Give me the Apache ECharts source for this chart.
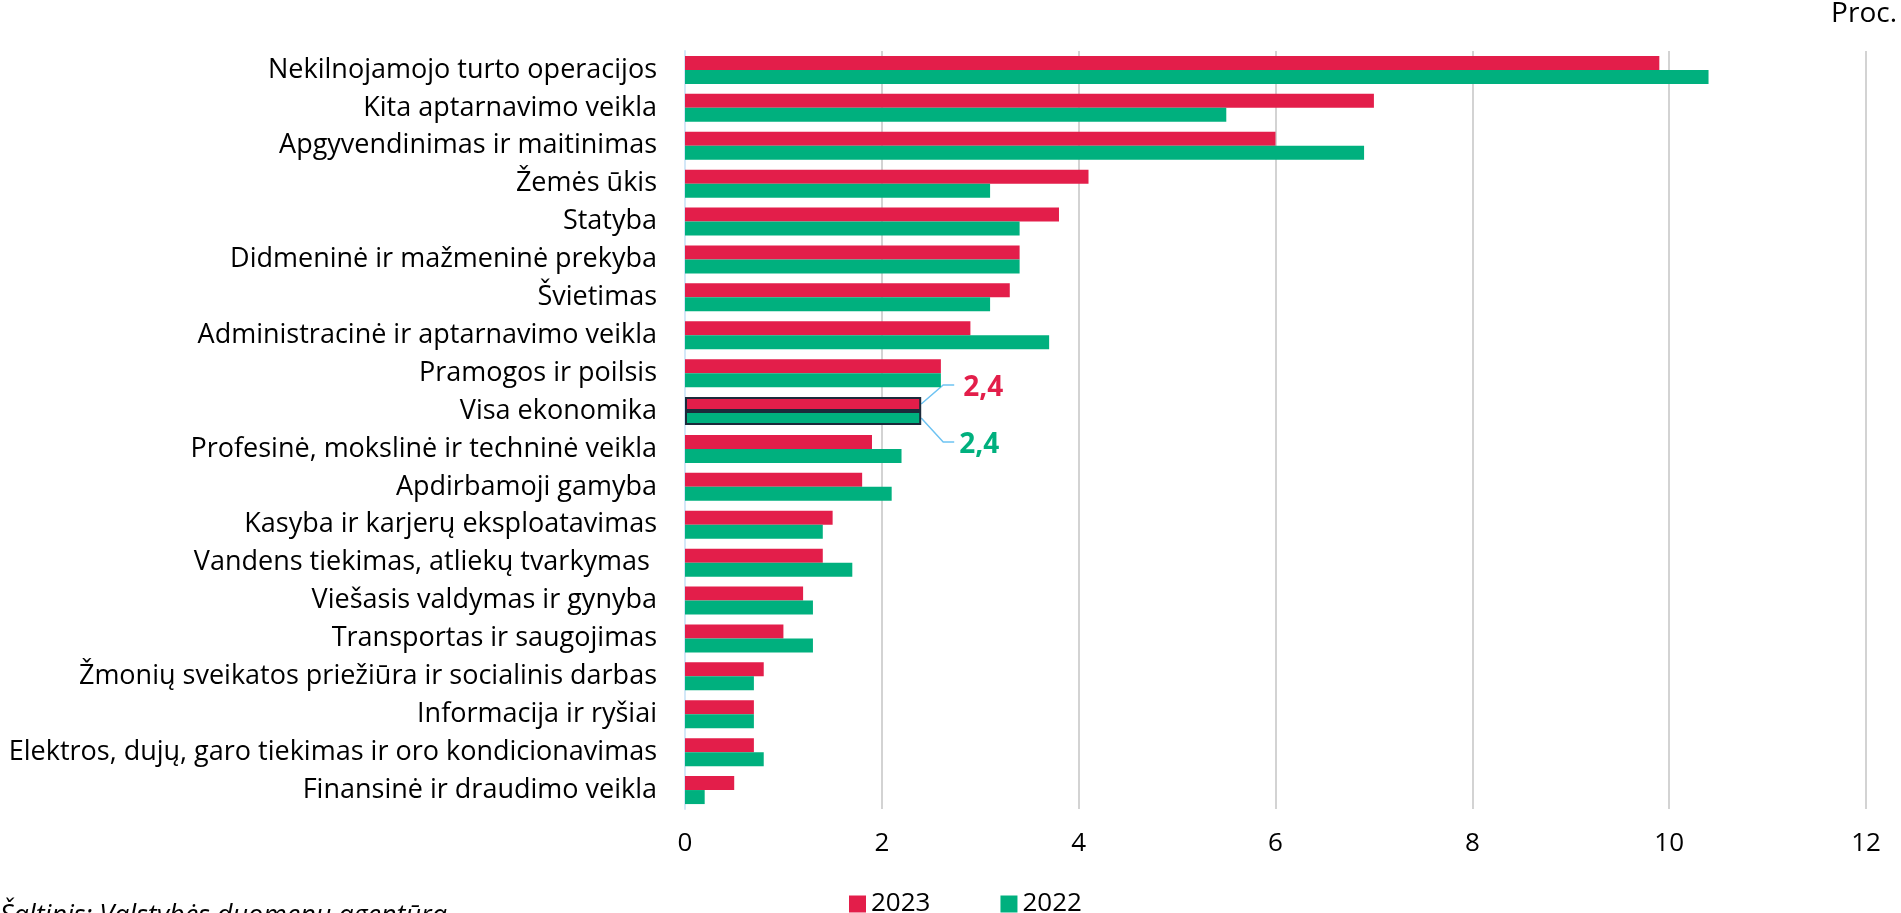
<!DOCTYPE html>
<html>
<head>
<meta charset="utf-8">
<script src="https://cdn.jsdelivr.net/npm/echarts@6/dist/echarts.min.js"></script>
<style>
  html, body { margin: 0; padding: 0; background: #fff; }
  #chart { width: 1901px; height: 913px; }
</style>
</head>
<body>
<div id="chart"></div>
<script>
const categories = [
  "Nekilnojamojo turto operacijos",
  "Kita aptarnavimo veikla",
  "Apgyvendinimas ir maitinimas",
  "Žemės ūkis",
  "Statyba",
  "Didmeninė ir mažmeninė prekyba",
  "Švietimas",
  "Administracinė ir aptarnavimo veikla",
  "Pramogos ir poilsis",
  "Visa ekonomika",
  "Profesinė, mokslinė ir techninė veikla",
  "Apdirbamoji gamyba",
  "Kasyba ir karjerų eksploatavimas",
  "Vandens tiekimas, atliekų tvarkymas ",
  "Viešasis valdymas ir gynyba",
  "Transportas ir saugojimas",
  "Žmonių sveikatos priežiūra ir socialinis darbas",
  "Informacija ir ryšiai",
  "Elektros, dujų, garo tiekimas ir oro kondicionavimas",
  "Finansinė ir draudimo veikla"
];
const values2023 = [9.9, 7.0, 6.0, 4.1, 3.8, 3.4, 3.3, 2.9, 2.6, 2.4, 1.9, 1.8, 1.5, 1.4, 1.2, 1.0, 0.8, 0.7, 0.7, 0.5];
const values2022 = [10.4, 5.5, 6.9, 3.1, 3.4, 3.4, 3.1, 3.7, 2.6, 2.4, 2.2, 2.1, 1.4, 1.7, 1.3, 1.3, 0.7, 0.7, 0.8, 0.2];
const xTicks = [0, 2, 4, 6, 8, 10, 12];
const highlight = "Visa ekonomika";

const RED = "#E31E4A";
const GREEN = "#00B07E";
const FONT = "Open Sans";

const chart = echarts.init(document.getElementById("chart"));
const hiIdx = categories.indexOf(highlight);

function seriesData(values, color) {
  return values.map((v, i) => {
    if (i === hiIdx) {
      return {
        value: v,
        itemStyle: { color: color, borderColor: "#1B2A3A", borderWidth: 2 }
      };
    }
    return v;
  });
}

const option = {
  animation: false,
  textStyle: { fontFamily: FONT },
  grid: { left: 685, right: 35, top: 51, bottom: 104, containLabel: false },
  xAxis: {
    type: "value",
    min: xTicks[0],
    max: xTicks[xTicks.length - 1],
    interval: 2,
    axisLine: { show: false },
    axisTick: { show: false },
    splitLine: { lineStyle: { color: "#C4C4C4", width: 1.5 } },
    axisLabel: { color: "#000", fontSize: 26, margin: 22, fontFamily: FONT }
  },
  yAxis: {
    type: "category",
    inverse: true,
    data: categories,
    axisLine: { show: true, lineStyle: { color: "#D3E8F8", width: 2 } },
    axisTick: { show: false },
    axisLabel: { color: "#000", fontSize: 27, margin: 28, fontFamily: FONT }
  },
  legend: {
    data: ["2023", "2022"],
    left: 844,
    top: 886,
    itemWidth: 17,
    itemHeight: 17,
    itemGap: 70,
    icon: "rect",
    textStyle: { color: "#000", fontSize: 26, fontFamily: FONT }
  },
  series: [
    {
      name: "2023",
      type: "bar",
      data: seriesData(values2023, RED),
      itemStyle: { color: RED },
      barGap: "0%",
      barCategoryGap: "26%"
    },
    {
      name: "2022",
      type: "bar",
      data: seriesData(values2022, GREEN),
      itemStyle: { color: GREEN }
    }
  ]
};

chart.setOption(option);

// callouts for the highlighted row, positioned through the chart's own scales
const p1 = chart.convertToPixel({ seriesIndex: 0 }, [values2023[hiIdx], hiIdx]);
const p2 = chart.convertToPixel({ seriesIndex: 1 }, [values2022[hiIdx], hiIdx]);
const yA = p1[1] - 7, yB = p2[1] + 7;
const fmt = (v) => v.toFixed(1).replace(".", ",");

chart.setOption({
  graphic: [
    {
      id: "unit", type: "text", right: 4, top: 0,
      style: { text: "Proc.", fill: "#000", font: "28px " + FONT }
    },
    {
      id: "source", type: "text", left: 0, top: 903,
      style: { text: "Šaltinis: Valstybės duomenų agentūra", fill: "#000", font: "italic 27px " + FONT }
    },
    {
      id: "lead1", type: "polyline", silent: true,
      shape: { points: [[p1[0], yA], [p1[0] + 22, yA - 19], [p1[0] + 33, yA - 19]] },
      style: { stroke: "#6EC3F2", lineWidth: 1.5, fill: null }
    },
    {
      id: "lead2", type: "polyline", silent: true,
      shape: { points: [[p2[0], yB], [p2[0] + 22, yB + 24], [p2[0] + 33, yB + 24]] },
      style: { stroke: "#6EC3F2", lineWidth: 1.5, fill: null }
    },
    {
      id: "lab1", type: "text", x: p1[0] + 42, y: yA - 16,
      style: { text: fmt(values2023[hiIdx]), fill: RED, font: "bold 28px " + FONT, textVerticalAlign: "middle" }
    },
    {
      id: "lab2", type: "text", x: p2[0] + 38, y: yB + 27,
      style: { text: fmt(values2022[hiIdx]), fill: GREEN, font: "bold 28px " + FONT, textVerticalAlign: "middle" }
    }
  ]
});
</script>
</body>
</html>
